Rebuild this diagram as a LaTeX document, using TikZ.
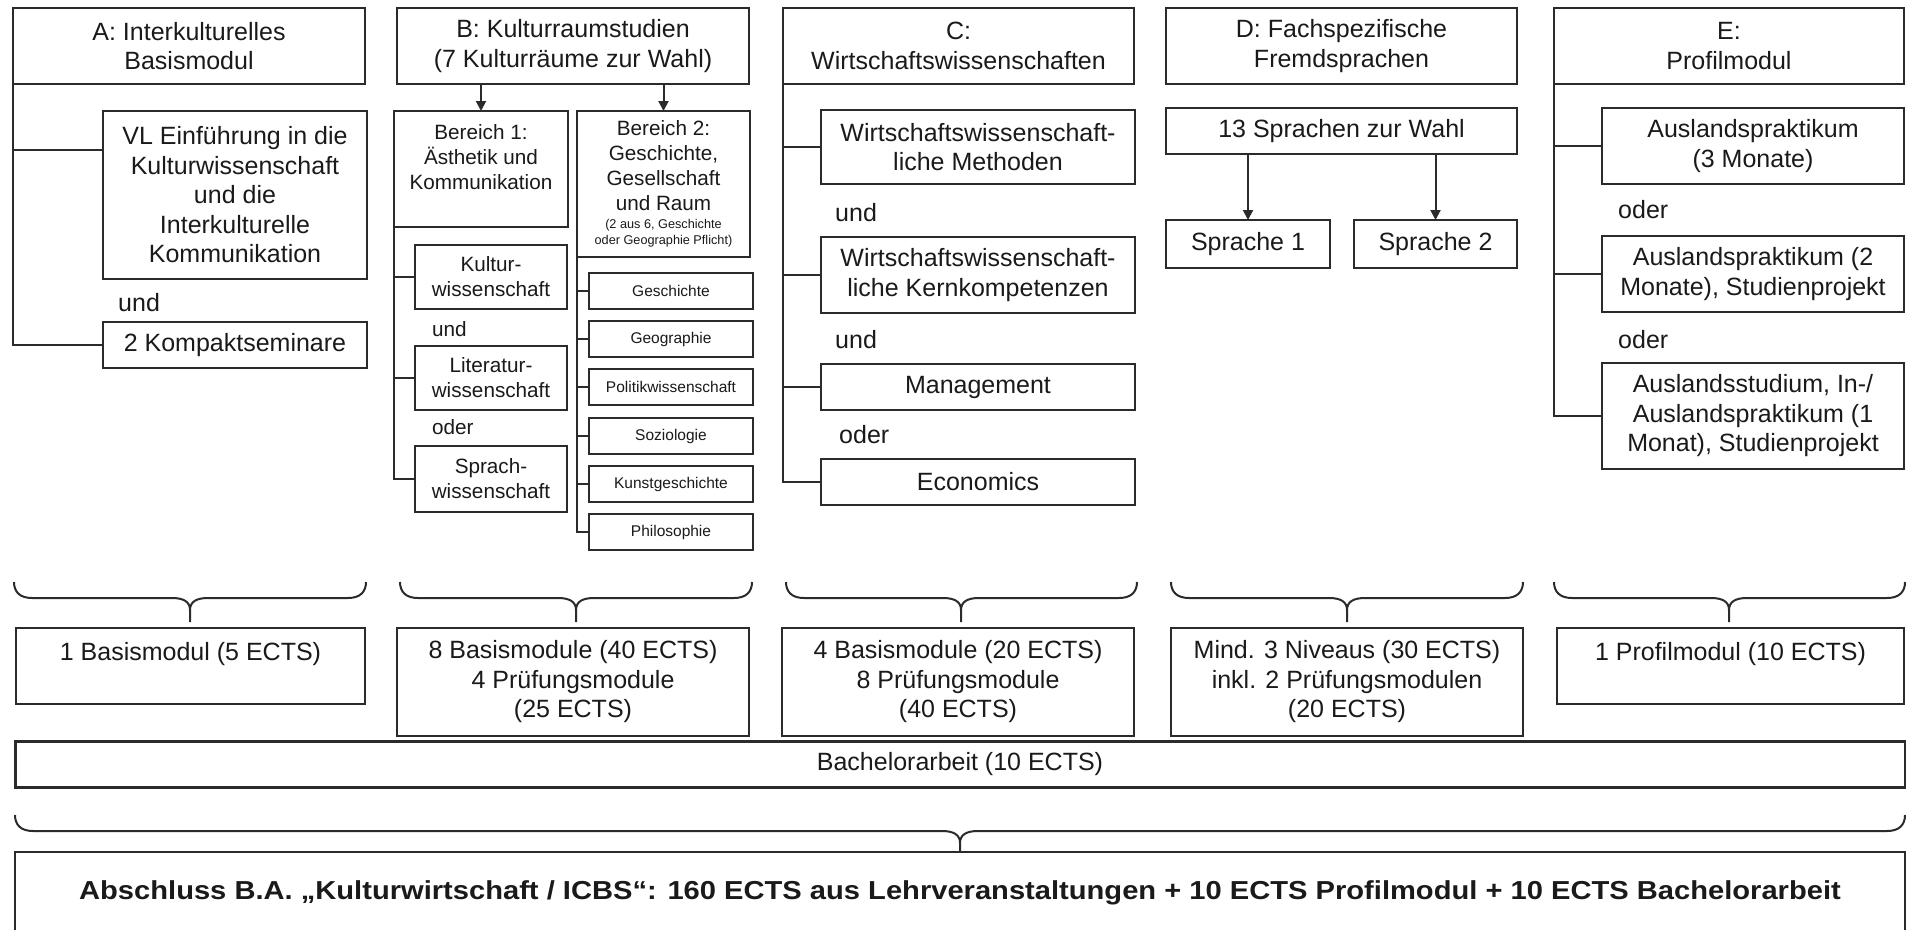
\documentclass[tikz,border=0pt]{standalone}
\usepackage{fontspec}
\setmainfont{Liberation Sans}
\newfontfamily\stretchbold[FakeStretch=1.12]{Liberation Sans}
\usetikzlibrary{arrows.meta}
\definecolor{linec}{HTML}{2B2B2B}
\definecolor{txtc}{HTML}{1A1A1A}
\newcommand\mkbox[7][]{%
  \pgfmathsetmacro\mbcx{(#3+#5)/2}%
  \pgfmathsetmacro\mbcy{(#4+#6)/2}%
  \pgfmathsetmacro\mbw{#5-#3}%
  \pgfmathsetmacro\mbh{#6-#4}%
  \node[box,#1,minimum width=\mbw pt,minimum height=\mbh pt] (#2) at (\mbcx,\mbcy) {#7};}
\newcommand\mkbrace[6]{%
  \draw[brc] (#1,#4) .. controls (#1,{#4+10}) and ({#1+6},#5) .. ({#1+18},#5) -- ({#3-18},#5)
    .. controls ({#3-6},#5) and (#3,{#5+4}) .. (#3,{#5+12}) -- (#3,#6)
    (#3,{#5+12}) .. controls (#3,{#5+4}) and ({#3+6},#5) .. ({#3+18},#5) -- ({#2-18},#5)
    .. controls ({#2-6},#5) and (#2,{#4+10}) .. (#2,#4);}
\begin{document}
\begin{tikzpicture}[x=1pt,y=-1pt,
  box/.style={draw=linec, line width=2pt, inner sep=0pt, outer sep=0pt, align=center,
    text=txtc, font=\fontsize{25}{29.5}\selectfont},
  mid/.style={font=\fontsize{20.7}{25}\selectfont},
  sml/.style={font=\fontsize{15.5}{18}\selectfont},
  conn/.style={draw=linec, line width=2pt},
  arr/.style={conn, -{Triangle[length=10pt,width=10pt]}},
  word/.style={anchor=west, inner sep=0pt, text=txtc, font=\fontsize{25}{29.5}\selectfont},
  brc/.style={draw=linec, line width=2pt},
]
\path[use as bounding box] (0,0) rectangle (1906,929);
\clip (0,0) rectangle (1906,929);
\fill[white] (0,0) rectangle (1906,929);

% ---------- A ----------
\mkbox{Ahead}{13}{8}{365}{84}{A: Interkulturelles\\Basismodul}
\mkbox{Avl}{103}{111}{367}{279}{VL Einführung in die\\Kulturwissenschaft\\und die\\Interkulturelle\\Kommunikation}
\mkbox{Akomp}{103}{322}{367}{368}{2 Kompaktseminare}
\node[word] (Aund) at (118,303) {und};
\coordinate (Avlj) at ([yshift=45pt]Avl.west);
\draw[conn] (Ahead.south west) |- (Akomp.west);
\draw[conn] (Ahead.south west |- Avlj) -- (Avlj);

% ---------- B ----------
\mkbox{Bhead}{397}{8}{749}{84}{B: Kulturraumstudien\\(7 Kulturräume zur Wahl)}
\mkbox[mid]{B1}{394}{111}{568}{227}{Bereich 1:\\Ästhetik und\\Kommunikation\\\mbox{}}
\mkbox[mid,text width=165pt,align=flush center]{B2}{577}{111}{750}{257}{Bereich 2:\\Geschichte,\\Gesellschaft\\und Raum\par\vspace{2pt}{\fontsize{12.7}{16}\selectfont (2 aus 6, Geschichte\\oder Geographie Pflicht)\par}}
\mkbox[mid]{Bk}{415}{245}{567}{309}{Kultur-\\wissenschaft}
\mkbox[mid]{Bl}{415}{346}{567}{410}{Literatur-\\wissenschaft}
\mkbox[mid]{Bs}{415}{446}{567}{512}{Sprach-\\wissenschaft}
\node[word,mid] (Bund) at (432,329) {und};
\node[word,mid] (Boder) at (432,427) {oder};
\mkbox[sml]{Bg1}{589}{273}{753}{309}{Geschichte}
\mkbox[sml]{Bg2}{589}{321}{753}{357}{Geographie}
\mkbox[sml]{Bg3}{589}{369}{753}{405}{Politikwissenschaft}
\mkbox[sml]{Bg4}{589}{418}{753}{454}{Soziologie}
\mkbox[sml]{Bg5}{589}{466}{753}{502}{Kunstgeschichte}
\mkbox[sml]{Bg6}{589}{514}{753}{550}{Philosophie}
\draw[arr] (B1.north |- Bhead.south) -- (B1.north);
\draw[arr] (B2.north |- Bhead.south) -- (B2.north);
\draw[conn] (B1.south west) |- (Bs.west);
\foreach \n in {Bk,Bl} \draw[conn] (B1.south west |- \n.west) -- (\n.west);
\draw[conn] (B2.south west) |- (Bg6.west);
\foreach \n in {Bg1,Bg2,Bg3,Bg4,Bg5} \draw[conn] (B2.south west |- \n.west) -- (\n.west);

% ---------- C ----------
\mkbox{Chead}{783}{8}{1134}{84}{C:\\Wirtschaftswissenschaften}
\mkbox{Cwm}{821}{110}{1135}{184}{Wirtschaftswissenschaft-\\liche Methoden}
\mkbox{Cwk}{821}{237}{1135}{313}{Wirtschaftswissenschaft-\\liche Kernkompetenzen}
\mkbox{Cman}{821}{364}{1135}{410}{Management}
\mkbox{Ceco}{821}{459}{1135}{505}{Economics}
\node[word] (Cund1) at (835,213) {und};
\node[word] (Cund2) at (835,340) {und};
\node[word] (Coder) at (839,435) {oder};
\draw[conn] (Chead.south west) |- (Ceco.west);
\foreach \n in {Cwm,Cwk,Cman} \draw[conn] (Chead.south west |- \n.west) -- (\n.west);

% ---------- D ----------
\mkbox{Dhead}{1166}{8}{1517}{84}{D: Fachspezifische\\Fremdsprachen}
\mkbox{Dwahl}{1166}{108}{1517}{154}{13 Sprachen zur Wahl}
\mkbox{Ds1}{1166}{220}{1330}{268}{Sprache 1}
\mkbox{Ds2}{1354}{220}{1517}{268}{Sprache 2}
\draw[arr] (Ds1.north |- Dwahl.south) -- (Ds1.north);
\draw[arr] (Ds2.north |- Dwahl.south) -- (Ds2.north);

% ---------- E ----------
\mkbox{Ehead}{1554}{8}{1904}{84}{E:\\Profilmodul}
\mkbox{Eap3}{1602}{108}{1904}{184}{Auslandspraktikum\\(3 Monate)}
\mkbox{Eap2}{1602}{236}{1904}{312}{Auslandspraktikum (2\\Monate), Studienprojekt}
\mkbox{Eas}{1602}{363}{1904}{469}{Auslandsstudium, In-/\\Auslandspraktikum (1\\Monat), Studienprojekt}
\node[word] (Eoder1) at (1618,210) {oder};
\node[word] (Eoder2) at (1618,340) {oder};
\draw[conn] (Ehead.south west) |- (Eas.west);
\foreach \n in {Eap3,Eap2} \draw[conn] (Ehead.south west |- \n.west) -- (\n.west);

% ---------- braces ----------
\mkbrace{14}{366}{190}{582}{598}{622}
\mkbrace{400}{752}{576}{582}{598}{622}
\mkbrace{786}{1137}{961}{582}{598}{622}
\mkbrace{1171}{1523}{1347}{582}{598}{622}
\mkbrace{1554}{1905}{1729}{582}{598}{622}

% ---------- summaries ----------
\mkbox{SA}{16}{628}{365}{704}{1 Basismodul (5 ECTS)\\\mbox{}}
\mkbox{SB}{397}{628}{749}{736}{8 Basismodule (40 ECTS)\\4 Prüfungsmodule\\(25 ECTS)}
\mkbox{SC}{782}{628}{1134}{736}{4 Basismodule (20 ECTS)\\8 Prüfungsmodule\\(40 ECTS)}
\mkbox{SD}{1171}{628}{1523}{736}{Mind. 3 Niveaus (30 ECTS)\\inkl. 2 Prüfungsmodulen\\(20 ECTS)}
\mkbox{SE}{1557}{628}{1904}{704}{1 Profilmodul (10 ECTS)\\\mbox{}}
\mkbox[line width=3pt]{Bach}{15}{741}{1905}{787}{Bachelorarbeit (10 ECTS)}
\mkbrace{15}{1905}{960}{815}{831}{852}
\mkbox[font=\stretchbold\bfseries\fontsize{26}{30}\selectfont]{Absch}{15}{852}{1905}{934}{Abschluss B.A. „Kulturwirtschaft / ICBS“: 160 ECTS aus Lehrveranstaltungen + 10 ECTS Profilmodul + 10 ECTS Bachelorarbeit}
\end{tikzpicture}
\end{document}
